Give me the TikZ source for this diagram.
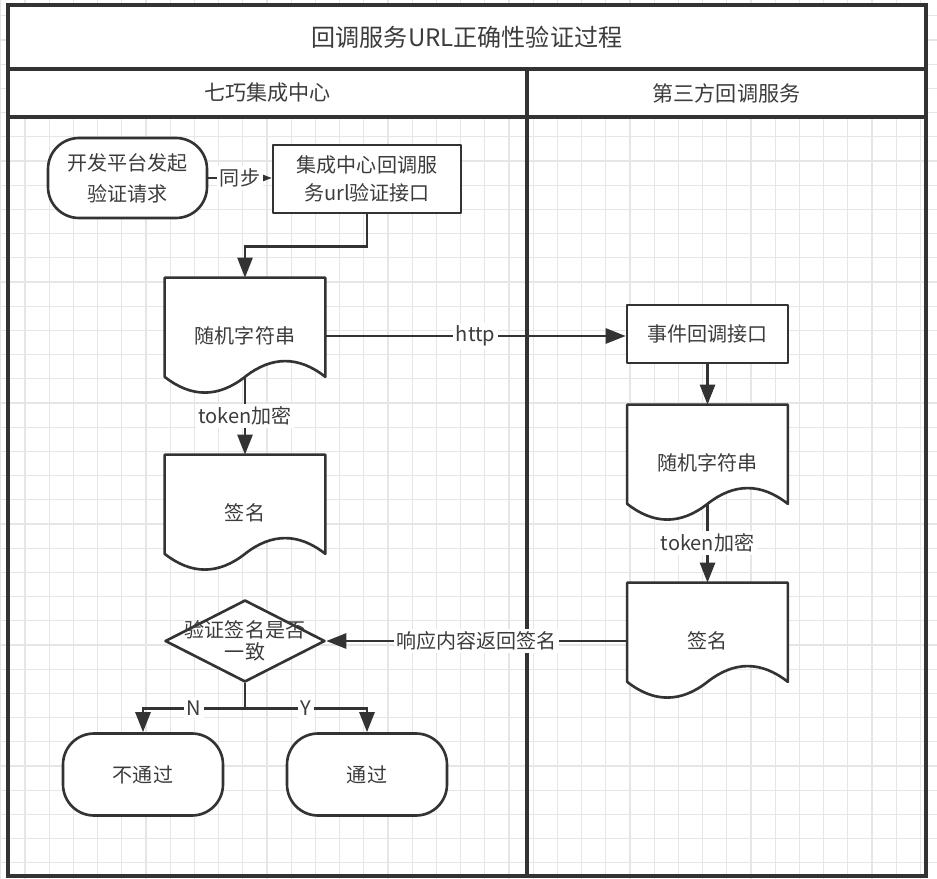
\documentclass[tikz,border=0pt]{standalone}
\usepackage{fontspec}
\setmainfont{Noto Sans CJK SC}
\usepackage{tikz}
\usetikzlibrary{arrows.meta,positioning,calc,shapes.geometric,backgrounds}
\usepackage{xcolor}
\definecolor{flowline}{RGB}{51,51,51}
\definecolor{flowtext}{RGB}{60,60,60}
\definecolor{gridcol}{RGB}{230,230,230}
\pgfdeclarelayer{docs}
\pgfsetlayers{background,docs,main}

\newcommand{\docwave}[1]{%
  \draw[shapeline] (#1.north west) -- (#1.north east)
    -- ($(#1.south east)+(0,-17.5)$)
    .. controls ($(#1.south east)+(-26.7,-38.5)$) and ($(#1.south)+(26.7,-38.5)$) .. ($(#1.south)+(0,-17.5)$)
    .. controls ($(#1.south)+(-26.7,3.5)$) and ($(#1.south west)+(26.7,3.5)$) .. ($(#1.south west)+(0,-17.5)$)
    -- cycle;
  \coordinate (#1-b) at ($(#1.south)+(0,-17.5)$);}

\begin{document}
\begin{tikzpicture}[x=0.02cm, y=-0.02cm, font=\fontsize{11.4pt}{16pt}\selectfont,
  shapeline/.style={draw=flowline, line width=1.5pt, fill=white, line join=round},
  procbox/.style={shapeline, inner sep=0pt, align=center, text=flowtext},
  termbox/.style={procbox, rounded corners=0.62cm},
  docbox/.style={inner sep=0pt, minimum width=3.2cm, minimum height=2.32cm, text=flowtext},
  decbox/.style={procbox, diamond, minimum width=3.2cm, minimum height=1.64cm},
  flow/.style={draw=flowline, line width=1.5pt, -{Triangle[length=0.4cm, width=0.3cm]}},
  flowlabel/.style={fill=white, inner sep=1.5pt, text=flowtext},
  poolline/.style={draw=flowline, line width=2.2pt}]
\useasboundingbox (0,0) rectangle (937,879);
\begin{pgfonlayer}{background}
\fill[white] (0,0) rectangle (937,879);
\foreach \gx in {0,...,38} \draw[gridcol, line width=0.6pt] ({0.8+24.2*\gx},0) -- ({0.8+24.2*\gx},879);
\foreach \gy in {0,...,35} \draw[gridcol, line width=0.6pt] (0,{15.8+24.2*\gy}) -- (937,{15.8+24.2*\gy});
\end{pgfonlayer}

\fill[white] (8,5) rectangle (926,117);
\draw[poolline] (8,5) rectangle (926,876);
\draw[poolline] (8,69) -- (926,69);
\draw[poolline] (8,117) -- (926,117);
\draw[poolline] (527,69) -- (527,876);
\node[text=flowtext, font=\fontsize{13.7pt}{16pt}\selectfont] (title) at (467,37) {回调服务URL正确性验证过程};
\node[text=flowtext, font=\fontsize{12pt}{14pt}\selectfont] (laneA) at (267.5,93) {七巧集成中心};
\node[text=flowtext, font=\fontsize{12pt}{14pt}\selectfont] (laneB) at (726.5,93) {第三方回调服务};

\node[termbox, minimum width=3.18cm, minimum height=1.6cm, font=\fontsize{11.4pt}{17.5pt}\selectfont] (start) at (127.5,178) {开发平台发起\\验证请求};
\node[procbox, minimum width=3.76cm, minimum height=1.36cm] (cbapi) at (367,179) {集成中心回调服\\务url验证接口};
\node[docbox] (rand1) at (245,336) {随机字符串};
\node[docbox] (sign1) at (245,513) {签名};
\node[procbox, minimum width=3.22cm, minimum height=1.16cm] (evtapi) at (707.5,334) {事件回调接口};
\node[docbox] (rand2) at (707.5,463) {随机字符串};
\node[docbox] (sign2) at (707.5,641) {签名};
\node[decbox, label={[align=center, text=flowtext, font=\fontsize{11.4pt}{12.5pt}\selectfont]center:验证签名是否\\一致}] (check) at (245,641) {};
\node[termbox, minimum width=3.2cm, minimum height=1.64cm] (fail) at (143,774.5) {不通过};
\node[termbox, minimum width=3.2cm, minimum height=1.64cm] (pass) at (367,774.5) {通过};
\begin{pgfonlayer}{docs}
\docwave{rand1}
\docwave{sign1}
\docwave{rand2}
\docwave{sign2}
\end{pgfonlayer}

\draw[flow] (start.east) -- node[flowlabel]{同步} (start.east -| cbapi.west);
\draw[flow] (cbapi.south) -- ++(0,32) -| (rand1.north);
\draw[flow] (rand1-b) -- node[flowlabel]{token加密} (sign1.north);
\draw[flow] (rand1.east) -- node[flowlabel]{http} (rand1.east -| evtapi.west);
\draw[flow] (evtapi.south) -- (rand2.north);
\draw[flow] (rand2-b) -- node[flowlabel]{token加密} (sign2.north);
\draw[flow] (sign2.west) -- node[flowlabel]{响应内容返回签名} (check.east);
\coordinate (split) at ($(check.south)+(0,25)$);
\draw[flow] (check.south) -- (split) -| node[flowlabel, pos=0.25]{N} (fail.north);
\draw[flow] (split) -| node[flowlabel, pos=0.25]{Y} (pass.north);
\end{tikzpicture}
\end{document}
